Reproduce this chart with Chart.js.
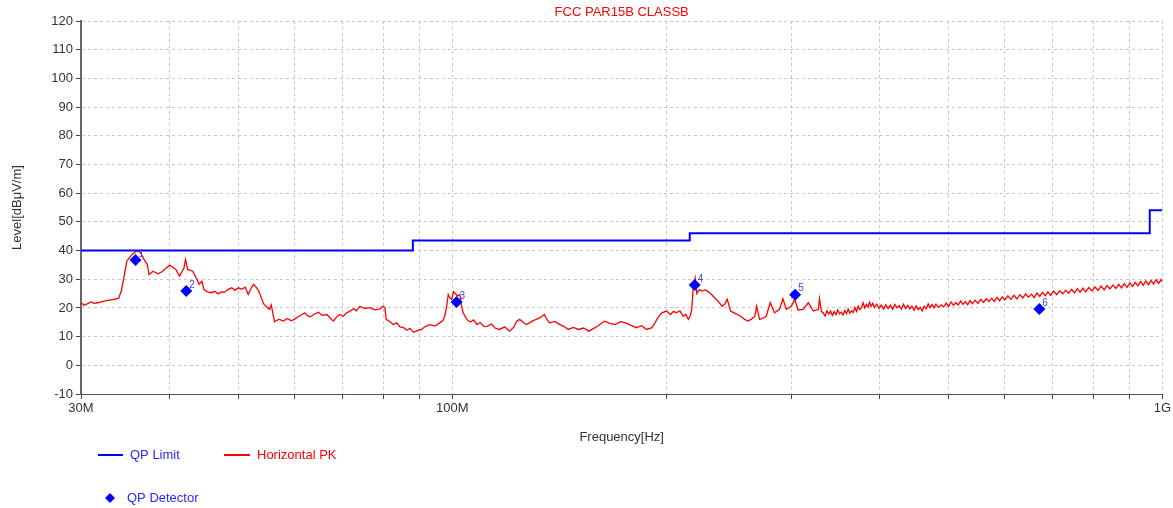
<!DOCTYPE html>
<html>
<head>
<meta charset="utf-8">
<script src="https://cdn.jsdelivr.net/npm/chart.js@4/dist/chart.umd.min.js"></script>
<style>
  body { margin: 0; background: #fff; }
  #wrap { width: 1173px; height: 508px; }
</style>
</head>
<body>
<div id="wrap"><canvas id="emiChart" width="1173" height="508"></canvas></div>
<script>
// Data (frequency in MHz, level in dBuV/m)
const limitFreq = [30, 88, 216, 960, 1000];
const limitLevel = [40, 43.5, 46, 54, 54];

const qpFreq = [35.8, 42.2, 101.4, 219.5, 304, 671];
const qpLevel = [36.7, 25.9, 22.1, 28.0, 24.6, 19.6];
const qpLabels = ["1", "2", "3", "4", "5", "6"];

const pkFreq = [
  30.0, 30.3, 30.6, 31.0, 31.3, 31.7, 32.2, 32.7, 33.3, 33.9,
  34.2, 34.5, 34.8, 35.4, 36.0, 36.4, 36.8, 37.2, 37.4, 37.9,
  38.5, 39.0, 39.6, 40.0, 40.4, 40.8, 41.3, 41.9, 42.1, 42.4,
  43.1, 43.7, 44.0, 44.4, 44.7, 45.2, 45.8, 46.3, 46.8, 47.3,
  47.8, 48.3, 48.9, 49.4, 50.0, 50.5, 51.1, 51.6, 52.0, 52.5,
  53.0, 53.4, 54.3, 55.3, 55.6, 56.2, 57.0, 57.8, 58.6, 59.3,
  59.9, 60.7, 61.3, 62.0, 62.6, 63.1, 63.9, 64.8, 65.6, 66.6,
  67.3, 68.0, 68.7, 69.4, 70.2, 71.0, 71.8, 72.6, 73.3, 74.1,
  75.3, 76.6, 77.8, 79.1, 79.8, 80.4, 80.7, 81.6, 82.6, 83.5,
  84.4, 85.4, 86.3, 87.2, 88.2, 89.3, 90.5, 91.7, 93.0, 94.5,
  96.0, 97.0, 97.6, 98.2, 98.7, 99.3, 99.8, 100.4, 100.9, 101.7,
  102.5, 103.0, 103.6, 104.8, 106.0, 107.2, 108.3, 109.5, 110.8, 112.0,
  113.5, 115.0, 116.6, 118.5, 120.4, 122.0, 123.2, 124.4, 125.7, 127.1,
  128.4, 129.8, 131.2, 133.0, 134.8, 136.0, 137.1, 139.4, 141.7, 143.6,
  145.6, 148.1, 150.6, 153.1, 155.7, 158.0, 160.2, 162.0, 163.9, 166.7,
  169.6, 172.5, 175.5, 178.5, 181.6, 184.7, 187.9, 191.0, 192.6, 194.2,
  195.8, 197.4, 200.2, 203.0, 204.9, 206.8, 209.2, 211.5, 213.2, 215.0,
  216.3, 217.4, 218.5, 219.8, 221.0, 222.8, 224.7, 227.0, 229.6, 232.0,
  234.6, 237.2, 239.9, 242.0, 243.9, 246.6, 249.3, 252.1, 255.0, 258.1,
  260.9, 263.8, 266.8, 268.3, 270.9, 273.8, 276.8, 280.4, 284.4, 289.0,
  292.2, 295.4, 300.3, 303.6, 306.9, 312.0, 317.3, 322.5, 327.8, 329.0,
  331, 333, 335, 337, 339, 341, 343, 345, 347, 349,
  351, 353, 355, 357, 359, 361, 363, 365, 367, 369,
  371, 373, 375, 377, 379, 381, 383, 385, 387, 389,
  391, 393, 396, 399, 402, 405, 408, 411, 414, 417,
  420, 423, 426, 429, 432, 435, 438, 441, 444, 447,
  450, 453, 456, 459, 462, 465, 468, 471, 474, 477,
  480, 484, 488, 492, 496, 500, 504, 508, 512, 516,
  520, 524, 528, 532, 536, 540, 545, 550, 555, 560,
  565, 570, 575, 580, 585, 590, 595, 600, 606, 612,
  618, 624, 630, 636, 642, 648, 654, 660, 666, 672,
  678, 684, 690, 696, 703, 710, 717, 724, 731, 738,
  745, 752, 759, 766, 773, 780, 788, 796, 804, 812,
  820, 828, 836, 844, 852, 860, 868, 876, 884, 892,
  900, 908, 916, 924, 932, 940, 948, 956, 964, 972,
  980, 988, 996, 1000
];
const pkLevel = [
  21.8, 20.9, 21.4, 22.1, 21.6, 21.8, 22.3, 22.6, 22.9, 23.4,
  26.0, 31.0, 36.3, 38.6, 40.0, 39.2, 36.9, 35.1, 31.6, 32.8,
  31.9, 32.6, 34.0, 34.9, 34.2, 33.4, 31.1, 34.0, 36.9, 33.4,
  32.8, 29.9, 28.2, 29.3, 26.4, 25.6, 25.3, 25.8, 24.9, 25.6,
  25.5, 26.4, 27.0, 26.2, 27.0, 26.5, 27.2, 24.7, 26.5, 28.2,
  27.1, 25.8, 21.2, 19.5, 21.0, 15.2, 16.1, 15.4, 16.3, 15.5,
  16.0, 16.9, 17.6, 18.3, 17.2, 16.9, 17.8, 18.5, 17.4, 17.7,
  16.5, 15.4, 16.8, 17.7, 17.1, 18.3, 18.9, 19.7, 19.0, 20.6,
  19.8, 20.1, 19.3, 19.7, 20.6, 20.1, 16.0, 15.3, 14.2, 14.8,
  13.4, 13.1, 12.2, 12.9, 11.5, 12.1, 12.5, 13.6, 14.2, 13.7,
  14.8, 15.6, 17.1, 20.5, 24.7, 23.4, 23.0, 25.6, 25.1, 24.2,
  24.7, 21.0, 18.3, 16.0, 15.1, 15.8, 14.2, 14.9, 13.5, 13.6,
  14.4, 12.9, 12.5, 13.4, 11.9, 13.2, 15.3, 16.0, 15.1, 14.2,
  14.8, 15.5, 16.0, 16.6, 17.7, 15.9, 14.8, 15.3, 14.2, 13.6,
  12.5, 13.2, 12.5, 13.0, 11.9, 12.8, 13.6, 14.6, 15.4, 14.6,
  14.2, 15.2, 14.8, 13.9, 13.1, 13.8, 12.5, 13.1, 14.4, 16.0,
  17.4, 18.3, 18.9, 17.7, 18.8, 18.3, 19.0, 17.1, 17.8, 16.0,
  17.2, 19.5, 27.6, 30.5, 25.0, 26.4, 25.9, 26.3, 25.6, 24.6,
  23.3, 22.1, 20.6, 21.4, 23.0, 18.9, 18.3, 17.7, 17.0, 16.0,
  15.4, 16.1, 17.1, 20.6, 16.0, 16.4, 17.1, 21.8, 18.3, 19.5,
  23.2, 19.5, 20.6, 23.0, 19.3, 19.5, 21.8, 18.9, 19.5, 23.2,
  18.7, 18.3, 17.2, 19.0, 17.9, 18.9, 17.4, 18.7, 17.6, 19.3,
  17.9, 18.5, 17.5, 19.1, 18.0, 19.6, 18.2, 19.0, 18.4, 20.1,
  18.8, 20.6, 19.4, 20.1, 21.8, 20.0, 21.2, 20.3, 22.0, 20.5,
  21.6, 20.2, 21.3, 19.9, 21.0, 19.6, 21.1, 19.8, 20.9, 19.5,
  21.2, 20.0, 20.8, 19.6, 21.3, 19.8, 20.9, 19.7, 20.6, 19.2,
  20.7, 19.4, 20.2, 18.9, 20.6, 19.7, 21.4, 20.1, 21.2, 20.0,
  21.3, 20.2, 21.1, 20.4, 21.7, 20.5, 22.1, 20.9, 21.8, 21.0,
  22.4, 21.2, 22.2, 21.1, 22.6, 21.5, 22.7, 21.6, 23.0, 21.9,
  23.2, 22.2, 23.4, 22.3, 23.7, 22.5, 23.9, 22.8, 24.2, 23.0,
  24.4, 23.1, 24.6, 23.5, 24.9, 23.7, 24.8, 23.6, 25.2, 24.0,
  25.4, 24.2, 25.6, 24.4, 25.9, 24.6, 26.0, 24.9, 26.2, 25.1,
  26.5, 25.2, 26.7, 25.4, 26.9, 25.6, 27.1, 25.9, 27.3, 26.1,
  27.6, 26.3, 27.8, 26.6, 28.0, 26.8, 28.2, 27.0, 28.5, 27.2,
  28.7, 27.5, 28.9, 27.7, 29.2, 27.9, 29.4, 28.1, 29.6, 28.3,
  29.8, 28.6, 29.9, 29.0
];

const xTickValues = [30, 40, 50, 60, 70, 80, 90, 100, 200, 300, 400, 500, 600, 700, 800, 900, 1000];
const xTickText = { 30: "30M", 100: "100M", 1000: "1G" };

const BLUE = "rgb(0,0,255)";
const RED = "rgb(255,0,0)";
const FONT = "'Liberation Sans', Arial, sans-serif";

Chart.defaults.font.family = FONT;
Chart.defaults.font.size = 13;
Chart.defaults.color = "#333";

function pairs(xs, ys) {
  return xs.map((x, i) => ({ x: x, y: ys[i] }));
}

// titles, marker numbers and legend drawn on the canvas
const extrasPlugin = {
  id: "extras",
  afterDraw(chart) {
    const ctx = chart.ctx;
    const area = chart.chartArea;
    const xs = chart.scales.x, ys = chart.scales.y;
    ctx.save();

    // title
    ctx.font = "13px " + FONT;
    ctx.fillStyle = RED;
    ctx.textAlign = "center";
    ctx.textBaseline = "middle";
    ctx.fillText("FCC PAR15B CLASSB", (area.left + area.right) / 2, 12);

    // axis titles
    ctx.fillStyle = "#333";
    ctx.fillText("Frequency[Hz]", (area.left + area.right) / 2, 437);
    ctx.save();
    ctx.translate(17, (area.top + area.bottom) / 2);
    ctx.rotate(-Math.PI / 2);
    ctx.fillText("Level[dBμV/m]", 0, 0);
    ctx.restore();

    // marker numbers
    ctx.font = "10px " + FONT;
    ctx.fillStyle = "rgb(60,60,255)";
    ctx.textAlign = "left";
    qpFreq.forEach((f, i) => {
      ctx.fillText(qpLabels[i], xs.getPixelForValue(f) + 3, ys.getPixelForValue(qpLevel[i]) - 6);
    });

    // legend
    ctx.font = "13px " + FONT;
    ctx.lineWidth = 2;
    ctx.strokeStyle = BLUE;
    ctx.beginPath(); ctx.moveTo(98, 455); ctx.lineTo(123, 455); ctx.stroke();
    ctx.fillStyle = "rgb(40,40,255)";
    ctx.fillText("QP Limit", 130, 455);
    ctx.strokeStyle = RED;
    ctx.beginPath(); ctx.moveTo(224, 455); ctx.lineTo(250, 455); ctx.stroke();
    ctx.fillStyle = RED;
    ctx.fillText("Horizontal PK", 257, 455);
    ctx.fillStyle = BLUE;
    ctx.beginPath();
    ctx.moveTo(110, 493); ctx.lineTo(115, 498); ctx.lineTo(110, 503); ctx.lineTo(105, 498);
    ctx.closePath(); ctx.fill();
    ctx.fillStyle = "rgb(40,40,255)";
    ctx.fillText("QP Detector", 127, 498);
    ctx.restore();
  }
};

const ctx = document.getElementById("emiChart").getContext("2d");
new Chart(ctx, {
  type: "line",
  data: {
    datasets: [
      {
        label: "QP Detector",
        data: pairs(qpFreq, qpLevel),
        showLine: false,
        pointStyle: "rectRot",
        pointRadius: 6,
        backgroundColor: BLUE,
        borderColor: BLUE,
        borderWidth: 0
      },
      {
        label: "QP Limit",
        data: pairs(limitFreq, limitLevel),
        stepped: "before",
        borderColor: BLUE,
        borderWidth: 2,
        pointRadius: 0,
        fill: false
      },
      {
        label: "Horizontal PK",
        data: pairs(pkFreq, pkLevel),
        borderColor: RED,
        borderWidth: 1.3,
        pointRadius: 0,
        tension: 0,
        fill: false
      }
    ]
  },
  options: {
    responsive: false,
    animation: false,
    layout: { padding: { top: 21, right: 10, left: 0, bottom: 0 } },
    plugins: {
      legend: { display: false },
      title: { display: false },
      tooltip: { enabled: false }
    },
    scales: {
      x: {
        type: "logarithmic",
        min: 30,
        max: 1000,
        afterBuildTicks: (scale) => {
          scale.ticks = xTickValues.map(v => ({ value: v }));
        },
        afterFit: (scale) => { scale.height = 114; },
        ticks: {
          autoSkip: false,
          maxRotation: 0,
          padding: 2,
          color: "#333",
          callback: (v) => xTickText[v] || ""
        },
        grid: { color: "#c8c8c8", tickColor: "#444", tickLength: 5, tickBorderDash: [], tickWidth: 1 },
        border: { display: true, color: "#555", width: 1, dash: [3, 3] }
      },
      y: {
        min: -10,
        max: 120,
        afterFit: (scale) => { scale.width = 81; },
        ticks: { stepSize: 10, padding: 3, color: "#333" },
        grid: { color: "#c8c8c8", tickColor: "#444", tickLength: 5, tickBorderDash: [], tickWidth: 1 },
        border: { display: true, color: "#666", width: 2, dash: [3, 3] }
      }
    }
  },
  plugins: [extrasPlugin]
});
</script>
</body>
</html>
